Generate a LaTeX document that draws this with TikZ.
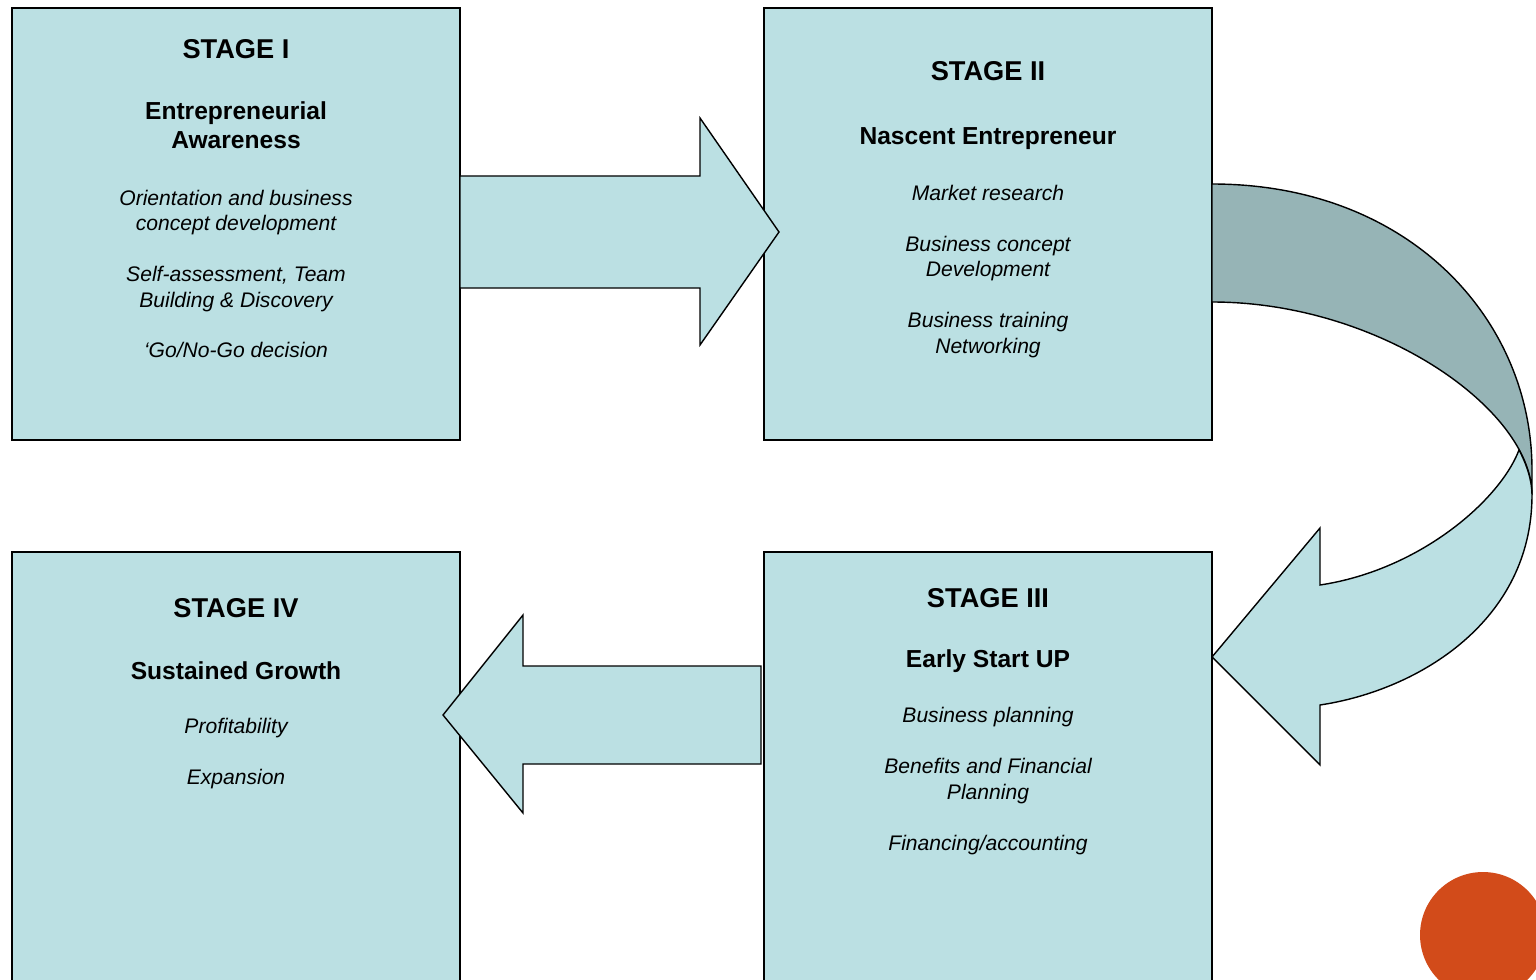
\documentclass[tikz,border=0pt]{standalone}
\usepackage{fontspec}
\setmainfont{Liberation Sans}
\usepackage{tikz}
\definecolor{boxblue}{RGB}{187,224,227}
\definecolor{backblue}{RGB}{150,180,182}
\definecolor{dotorange}{RGB}{210,75,26}

\begin{document}
\begin{tikzpicture}[x=0.02cm,y=-0.02cm]
  \tikzstyle{BoxStyle}=[draw=black,line width=1.1pt,fill=boxblue,minimum width=8.96cm,inner sep=0pt]
  \tikzstyle{ArrowStyle}=[draw=black,line width=0.8pt,fill=boxblue,line join=miter]
  \tikzstyle{TitleStyle}=[font=\fontsize{15.5}{18}\selectfont\bfseries,inner sep=0pt]
  \tikzstyle{NameStyle}=[font=\fontsize{14}{16.5}\selectfont\bfseries,align=center,inner sep=0pt]
  \tikzstyle{ItemStyle}=[font=\fontsize{12}{14.5}\selectfont\itshape,align=center,inner sep=0pt]
  \useasboundingbox (0,0) rectangle (1536,980);
  \fill[white] (0,0) rectangle (1536,980);
  \clip (0,0) rectangle (1536,980);
  % the four stages
  \node[BoxStyle,minimum height=8.64cm] (s1) at (236,224) {};
  \node[BoxStyle,minimum height=8.64cm] (s2) at (988,224) {};
  \node[BoxStyle,minimum height=9.6cm] (s3) at (988,792) {};
  \node[BoxStyle,minimum height=9.6cm] (s4) at (236,792) {};
  % block arrows
  \draw[ArrowStyle] (460,176) -- (700,176) -- (700,118) -- (779,232)
    -- (700,345) -- (700,288) -- (460,288) -- cycle;
  \draw[ArrowStyle] (761,666) -- (523,666) -- (523,615) -- (443,715)
    -- (523,813) -- (523,764) -- (761,764) -- cycle;
  % curved arrow, back part
  \draw[ArrowStyle,fill=backblue] (1212,184) .. controls (1410,184) and (1532,320) .. (1532,470)
    -- (1532,495) .. controls (1532,410) and (1380,302) .. (1212,302) -- cycle;
  % curved arrow, front part
  \draw[ArrowStyle] (1519,450) .. controls (1527,465) and (1532,481) .. (1532,495)
    .. controls (1532,620) and (1420,690) .. (1320,705) -- (1320,765) -- (1212,657)
    -- (1320,528) -- (1320,585) .. controls (1420,570) and (1500,500) .. (1519,450) -- cycle;
  % texts
  \node[TitleStyle] (t1) at (236,49) {STAGE I};
  \node[NameStyle] (n1) at (236,125.5) {Entrepreneurial\\Awareness};
  \node[ItemStyle] (i1) at (236,274) {Orientation and business\\concept development\\[14.5pt]
    Self-assessment, Team\\Building \& Discovery\\[14.5pt]‘Go/No-Go decision};
  \node[TitleStyle] (t2) at (988,71) {STAGE II};
  \node[NameStyle] (n2) at (988,139) {Nascent Entrepreneur};
  \node[ItemStyle] (i2) at (988,271.5) {Market research\\[14.5pt]Business concept\\Development\\[14.5pt]
    Business training\\Networking};
  \node[TitleStyle] (t3) at (988,598) {STAGE III};
  \node[NameStyle] (n3) at (988,661) {Early Start UP};
  \node[ItemStyle] (i3) at (988,781) {Business planning\\[14.5pt]Benefits and Financial\\Planning\\[14.5pt]
    Financing/accounting};
  \node[TitleStyle] (t4) at (236,608) {STAGE IV};
  \node[NameStyle] (n4) at (236,671) {Sustained Growth};
  \node[ItemStyle] (i4) at (236,753.5) {Profitability\\[14.5pt]Expansion};
  % corner dot
  \fill[dotorange] (1483,935) circle (1.26cm);
\end{tikzpicture}
\end{document}
